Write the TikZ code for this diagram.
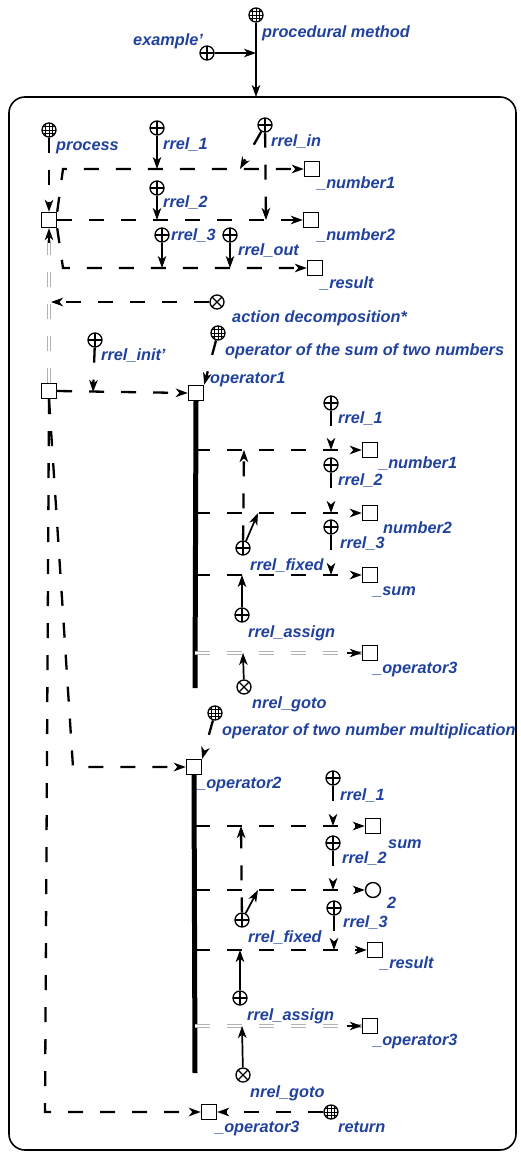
\documentclass[tikz,border=0pt]{standalone}
\usepackage{fontspec}
\setmainfont{Liberation Sans}
\usetikzlibrary{arrows.meta,calc}
\definecolor{labblue}{RGB}{32,66,156}
\newcommand\lblfont{\fontsize{16.3}{19}\selectfont\bfseries\itshape}
\begin{document}
\begin{tikzpicture}[x=1pt,y=-1pt,
 lab/.style={text=labblue,font=\lblfont,inner sep=0pt,anchor=base west},
 symb/.style={circle,draw,line width=1.3pt,minimum size=14pt,inner sep=0pt,fill=white},
 gridc/.style={symb,path picture={
   \foreach \d in {-3.5,0,3.5}{
     \draw[line width=0.9pt] ([xshift=\d pt]path picture bounding box.north) -- ([xshift=\d pt]path picture bounding box.south);
     \draw[line width=0.9pt] ([yshift=\d pt]path picture bounding box.west) -- ([yshift=\d pt]path picture bounding box.east);}}},
 plusc/.style={symb,path picture={\draw[line width=1.2pt] (path picture bounding box.north)--(path picture bounding box.south) (path picture bounding box.west)--(path picture bounding box.east);}},
 crossc/.style={symb,path picture={\draw[line width=1.2pt] (path picture bounding box.north west)--(path picture bounding box.south east) (path picture bounding box.south west)--(path picture bounding box.north east);}},
 sqn/.style={rectangle,draw,line width=1.4pt,minimum size=15pt,inner sep=0pt,fill=white},
 litn/.style={circle,draw,line width=1.4pt,minimum size=15pt,inner sep=0pt,fill=white},
 tip/.style={-{Stealth[length=12pt,width=8.5pt,inset=3.5pt]}},
 darc/.style={line width=2.3pt,dash pattern=on 15pt off 17pt,tip},
 sarc/.style={line width=1.7pt,tip},
 garc/.style={draw=gray!60,double=white,double distance=2pt,line width=1.3pt,dash pattern=on 15pt off 17pt},
 bus/.style={line width=5pt},
 frame/.style={line width=1.6pt,rounded corners=16pt}]
\useasboundingbox (0,0) rectangle (520,1154);
% frame
\draw[frame] (9,97) rectangle (516,1150);
% top
\node[gridc] (pm) at (256,15) {};
\node[plusc] (ex) at (207,53) {};
\coordinate (pmj) at (256,53);
\coordinate (ft) at (256,97);
\draw[sarc] (pm) -- (ft);
\draw[sarc] (ex) -- (pmj);
\node[lab] (lpm) at (262,37) {procedural method};
\node[lab] (lex) at (133,45) {example'};
% ---------- process block
\node[gridc] (proc) at (49,130) {};
\node[sqn] (sqA) at (49,220) {};
\node[plusc] (r1a) at (157,128) {};
\node[plusc] (r2a) at (157,188) {};
\node[plusc] (r3a) at (162,235) {};
\node[plusc] (routA) at (230,235) {};
\node[plusc] (rinA) at (265,125) {};
\node[sqn] (n1A) at (312,169) {};
\node[sqn] (n2A) at (311,220) {};
\node[sqn] (resA) at (315,268) {};
\coordinate (tA) at (63,169);
\coordinate (bA) at (63,268);
\draw[darc] (sqA.north east) -- (tA) -- (n1A.west);
\draw[darc] (sqA.east) -- (n2A.west);
\draw[darc] (sqA.south east) -- (bA) -- (resA.west);
\draw[darc] (proc) -- (sqA.north);
\coordinate (p1a) at (157,169);
\coordinate (p2a) at (157,220);
\coordinate (p3a) at (162,268);
\coordinate (poa) at (230,268);
\coordinate (pia) at (240,169);
\coordinate (pib) at (266,220);
\draw[sarc] (r1a) -- (p1a);
\draw[sarc] (r2a) -- (p2a);
\draw[sarc] (r3a) -- (p3a);
\draw[sarc] (routA) -- (poa);
\draw[darc] (rinA) -- (pia);
\draw[darc] (rinA) -- (pib);
\node[lab] (lproc) at (56,150) {process};
\node[lab] (lr1a) at (163,149) {rrel\_1};
\node[lab] (lrin) at (271,146) {rrel\_in};
\node[lab] (ln1A) at (317,188) {\_number1};
\node[lab] (lr2a) at (163,207) {rrel\_2};
\node[lab] (ln2A) at (317,240) {\_number2};
\node[lab] (lr3a) at (171,240) {rrel\_3};
\node[lab] (lrout) at (238,255) {rrel\_out};
\node[lab] (lresA) at (320,288) {\_result};
% decomposition
\node[crossc] (adec) at (217,302) {};
\node[sqn] (sqB) at (49,391) {};
\coordinate (pad) at (51,302);
\draw[garc] (sqB.north) -- (sqA.south);
\draw[tip,line width=1.5pt] ($(sqA.south)+(0,15)$) -- (sqA.south);
\draw[darc] (adec) -- (pad);
\node[lab] (ladec) at (232,322) {action decomposition*};
% operator1
\node[plusc] (rinit) at (95,340) {};
\node[gridc] (osum) at (218,333) {};
\node[sqn] (op1) at (196,393) {};
\coordinate (pinit) at (93,392);
\draw[darc] (sqB.east) -- (op1.west);
\draw[darc] (rinit) -- (pinit);
\draw[darc] (osum) -- (op1.north east);
\node[lab] (lrinit) at (101,360) {rrel\_init'};
\node[lab] (losum) at (225,355) {operator of the sum of two numbers};
\node[lab] (lop1) at (210,383) {operator1};
\coordinate (op1end) at (195,688);
\draw[bus] (op1.south) -- (op1end);
\node[sqn] (n1B) at (370,450) {};
\node[sqn] (n2B) at (370,513) {};
\node[sqn] (sumB) at (370,575) {};
\node[sqn] (o3B) at (370,653) {};
\coordinate (b1) at (195,450);
\coordinate (b2) at (195,513);
\coordinate (b3) at (195,575);
\coordinate (b4) at (195,653);
\draw[darc] (b1) -- (n1B.west);
\draw[darc] (b2) -- (n2B.west);
\draw[darc] (b3) -- (sumB.west);
\draw[garc] (b4) -- (o3B.west);
\draw[tip,line width=1.5pt] ($(o3B.west)+(-15,0)$) -- (o3B.west);
\node[plusc] (r1b) at (331,403) {};
\node[plusc] (r2b) at (331,465) {};
\node[plusc] (r3b) at (331,527) {};
\node[plusc] (rfixB) at (243,548) {};
\node[plusc] (rassB) at (242,615) {};
\node[crossc] (ngB) at (244,687) {};
\coordinate (q1b) at (331,450);
\coordinate (q2b) at (331,513);
\coordinate (q3b) at (331,575);
\coordinate (qfb) at (244,450);
\coordinate (qfd) at (258,513);
\coordinate (qab) at (242,575);
\coordinate (qgb) at (243,653);
\draw[darc] (r1b) -- (q1b);
\draw[darc] (r2b) -- (q2b);
\draw[darc] (r3b) -- (q3b);
\draw[darc] (rfixB) -- (qfb);
\draw[sarc] (rfixB) -- (qfd);
\draw[sarc] (rassB) -- (qab);
\draw[sarc] (ngB) -- (qgb);
\node[lab] (lr1b) at (338,423) {rrel\_1};
\node[lab] (ln1B) at (379,468) {\_number1};
\node[lab] (lr2b) at (338,485) {rrel\_2};
\node[lab] (ln2B) at (383,533) {number2};
\node[lab] (lr3b) at (340,548) {rrel\_3};
\node[lab] (lrfb) at (250,570) {rrel\_fixed};
\node[lab] (lsumB) at (373,595) {\_sum};
\node[lab] (lrab) at (248,637) {rrel\_assign};
\node[lab] (lo3B) at (373,673) {\_operator3};
\node[lab] (lngB) at (252,708) {nrel\_goto};
% operator2
\node[gridc] (omul) at (215,713) {};
\node[sqn] (op2) at (194,767) {};
\coordinate (cB) at (73,767);
\draw[darc] (sqB.south) -- (cB) -- (op2.west);
\draw[darc] (omul) -- (op2.north east);
\node[lab] (lomul) at (222,735) {operator of two number multiplication};
\node[lab] (lop2) at (197,788) {\_operator2};
\coordinate (op2end) at (195,1073);
\draw[bus] (op2.south) -- (op2end);
\node[sqn] (sumC) at (373,826) {};
\node[litn] (litC) at (373,890) {};
\node[sqn] (resC) at (375,950) {};
\node[sqn] (o3C) at (370,1026) {};
\coordinate (c1) at (195,826);
\coordinate (c2) at (195,890);
\coordinate (c3) at (195,950);
\coordinate (c4) at (195,1026);
\draw[darc] (c1) -- (sumC.west);
\draw[darc] (c2) -- (litC.west);
\draw[darc] (c3) -- (resC.west);
\draw[garc] (c4) -- (o3C.west);
\draw[tip,line width=1.5pt] ($(o3C.west)+(-15,0)$) -- (o3C.west);
\node[plusc] (r1c) at (333,778) {};
\node[plusc] (r2c) at (333,843) {};
\node[plusc] (r3c) at (334,908) {};
\node[plusc] (rfixC) at (242,920) {};
\node[plusc] (rassC) at (240,998) {};
\node[crossc] (ngC) at (243,1075) {};
\coordinate (q1c) at (333,826);
\coordinate (q2c) at (333,890);
\coordinate (q3c) at (334,950);
\coordinate (qfc) at (241,826);
\coordinate (qfe) at (258,890);
\coordinate (qac) at (240,950);
\coordinate (qgc) at (242,1026);
\draw[darc] (r1c) -- (q1c);
\draw[darc] (r2c) -- (q2c);
\draw[darc] (r3c) -- (q3c);
\draw[darc] (rfixC) -- (qfc);
\draw[sarc] (rfixC) -- (qfe);
\draw[sarc] (rassC) -- (qac);
\draw[sarc] (ngC) -- (qgc);
\node[lab] (lr1c) at (340,800) {rrel\_1};
\node[lab] (lsumC) at (388,848) {sum};
\node[lab] (lr2c) at (342,863) {rrel\_2};
\node[lab] (llit) at (387,908) {2};
\node[lab] (lr3c) at (343,927) {rrel\_3};
\node[lab] (lrfc) at (248,942) {rrel\_fixed};
\node[lab] (lresC) at (380,968) {\_result};
\node[lab] (lrac) at (247,1020) {rrel\_assign};
\node[lab] (lo3C) at (373,1045) {\_operator3};
\node[lab] (lngC) at (250,1097) {nrel\_goto};
% bottom
\node[sqn] (bot) at (209,1112) {};
\node[gridc] (ret) at (331,1112) {};
\coordinate (cL) at (45,1112);
\draw[darc] (sqB.south) -- (cL) -- (bot.west);
\draw[darc] (ret) -- (bot.east);
\node[lab] (lbot) at (215,1132) {\_operator3};
\node[lab] (lret) at (338,1132) {return};
\end{tikzpicture}
\end{document}
